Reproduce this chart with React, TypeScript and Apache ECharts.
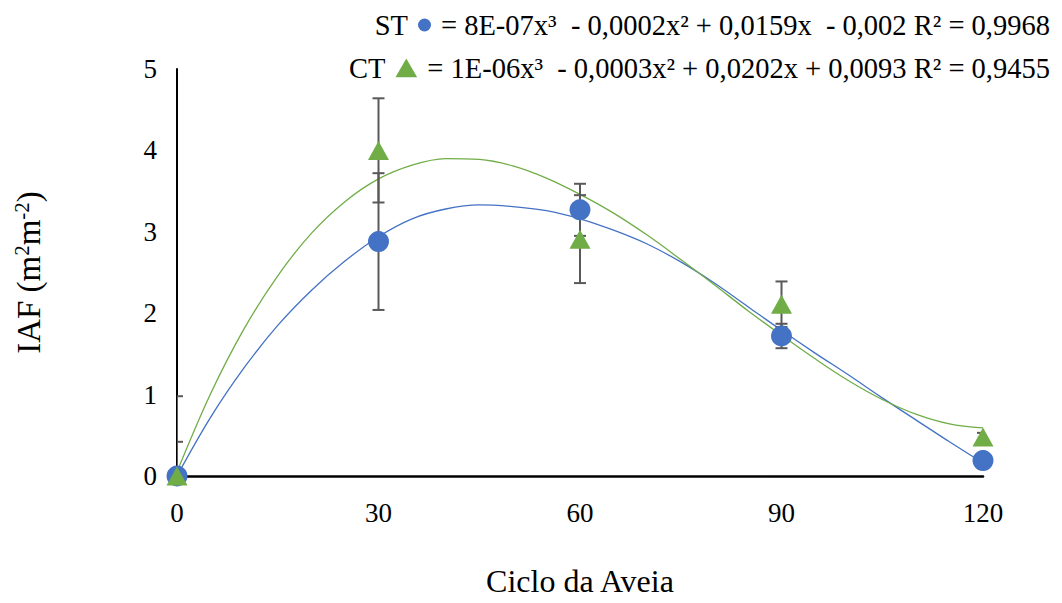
import React, { useEffect, useRef } from "react";
import * as echarts from "echarts";

// Sampled days of the oat cycle
const days = [0, 30, 60, 90, 120];
// Mean leaf area index
const stMeans = [0, 2.88, 3.27, 1.72, 0.19];
const ctMeans = [0, 4.0, 2.91, 2.11, 0.48];
// Error bar half-lengths
const stErr = [0.42, 0.84, 0.32, 0.15, 0.03];
const ctErr = [0.98, 0.64, 0.54, 0.28, 0.05];

// Trend lines
const curveX = [0, 5, 10, 15, 20, 25, 30, 35, 40, 45, 50, 55, 60, 65, 70, 75, 80, 85, 90, 95, 100, 105, 110, 115, 120];
const stCurve = [0, 0.72, 1.33, 1.85, 2.28, 2.64, 2.94, 3.16, 3.28, 3.33, 3.31, 3.26, 3.16, 3.02, 2.85, 2.63, 2.37, 2.08, 1.79, 1.51, 1.24, 0.96, 0.69, 0.42, 0.16];
const ctCurve = [0.05, 1.01, 1.81, 2.46, 2.98, 3.37, 3.65, 3.82, 3.9, 3.89, 3.81, 3.66, 3.46, 3.23, 2.96, 2.66, 2.35, 2.03, 1.73, 1.44, 1.17, 0.94, 0.76, 0.64, 0.59];

// Axis ticks
const xTicks = { min: 0, max: 120, interval: 30 };
const yTicks = { min: 0, max: 5, interval: 1 };

const stLabel = "ST";
const ctLabel = "CT";
const stEquation = "= 8E-07x³  - 0,0002x² + 0,0159x  - 0,002 R² = 0,9968";
const ctEquation = "= 1E-06x³  - 0,0003x² + 0,0202x + 0,0093 R² = 0,9455";

const BLUE = "#4472C4";
const GREEN = "#70AD47";
const FONT = '"Liberation Serif", "Times New Roman", serif';
const TRI_SVG =
  "data:image/svg+xml;utf8," +
  encodeURIComponent(
    "<svg xmlns='http://www.w3.org/2000/svg' width='22' height='19' viewBox='0 0 22 19'><polygon points='11,0 22,19 0,19' fill='#70AD47'/></svg>"
  );

export default function App() {
  const ref = useRef<HTMLDivElement>(null);
  useEffect(() => {
    document.body.style.margin = "0";
    if (!ref.current) return;
    const chart = echarts.init(ref.current, undefined, { renderer: "svg" });

    const errData = [
      ...days.map((d, i) => [d, stMeans[i] - stErr[i], stMeans[i] + stErr[i]]),
      ...days.map((d, i) => [d, ctMeans[i] - ctErr[i], ctMeans[i] + ctErr[i]]),
    ];

    const legendRich = {
      t: { fontFamily: FONT, fontSize: 28.5, color: "#000", verticalAlign: "middle" },
      s: { width: 10, height: 10 },
      c: { width: 13, height: 13, borderRadius: 6.5, backgroundColor: BLUE, verticalAlign: "middle" },
      tri: { width: 22, height: 19, backgroundColor: { image: TRI_SVG }, verticalAlign: "middle" },
    };

    const option: any = {
      animation: false,
      backgroundColor: "#fff",
      textStyle: { fontFamily: FONT },
      grid: { left: 177, right: 79, top: 69, bottom: 127, containLabel: false },
      xAxis: {
        type: "value",
        min: xTicks.min,
        max: xTicks.max,
        interval: xTicks.interval,
        name: "Ciclo da Aveia",
        nameLocation: "middle",
        nameGap: 89,
        nameTextStyle: { fontFamily: FONT, fontSize: 32, color: "#000" },
        axisLine: { show: true, lineStyle: { color: "#000", width: 2.5 } },
        axisTick: { show: false },
        splitLine: { show: false },
        axisLabel: { fontFamily: FONT, fontSize: 27, color: "#000", margin: 23 },
      },
      yAxis: {
        type: "value",
        min: yTicks.min,
        max: yTicks.max,
        interval: yTicks.interval,
        name: "IAF (m{sup|2}m{sup|-2})",
        nameLocation: "middle",
        nameGap: 130,
        nameTextStyle: {
          fontFamily: FONT,
          fontSize: 33,
          color: "#000",
          rich: {
            sup: { fontFamily: FONT, fontSize: 21, color: "#000", verticalAlign: "bottom", padding: [0, 0, 15, 0] },
          },
        },
        axisLine: { show: true, onZero: false, lineStyle: { color: "#000", width: 2 } },
        axisTick: { show: false },
        splitLine: { show: false },
        axisLabel: { fontFamily: FONT, fontSize: 27, color: "#000", margin: 20 },
      },
      series: [
        {
          type: "line",
          name: "ST trend",
          data: curveX.map((x, i) => [x, stCurve[i]]),
          smooth: 0.35,
          showSymbol: false,
          lineStyle: { color: BLUE, width: 1.3 },
          z: 2,
        },
        {
          type: "line",
          name: "CT trend",
          data: curveX.map((x, i) => [x, ctCurve[i]]),
          smooth: 0.35,
          showSymbol: false,
          lineStyle: { color: GREEN, width: 1.3 },
          z: 2,
        },
        {
          type: "custom",
          name: "err",
          clip: true,
          z: 3,
          data: errData,
          renderItem: (params: any, api: any) => {
            const x = api.value(0);
            const lo = api.value(1);
            const hi = api.value(2);
            const pHi = api.coord([x, hi]);
            const pLo = api.coord([x, lo]);
            const w = 6;
            const style = { stroke: "#595959", lineWidth: 2 };
            return {
              type: "group",
              children: [
                { type: "line", shape: { x1: pHi[0], y1: pHi[1], x2: pLo[0], y2: pLo[1] }, style },
                { type: "line", shape: { x1: pHi[0] - w, y1: pHi[1], x2: pHi[0] + w, y2: pHi[1] }, style },
                { type: "line", shape: { x1: pLo[0] - w, y1: pLo[1], x2: pLo[0] + w, y2: pLo[1] }, style },
              ],
            };
          },
        },
        {
          type: "scatter",
          name: "ST",
          data: days.map((d, i) => [d, stMeans[i]]),
          symbol: "circle",
          symbolSize: 21,
          itemStyle: { color: BLUE, opacity: 1 },
          clip: false,
          z: 4,
        },
        {
          type: "scatter",
          name: "CT",
          data: days.map((d, i) => [d, ctMeans[i]]),
          symbol: "triangle",
          symbolSize: [21, 19],
          itemStyle: { color: GREEN, opacity: 1 },
          clip: false,
          z: 5,
        },
      ],
      graphic: [
        {
          type: "text",
          x: 1050,
          y: 25,
          style: {
            text: `{t|${stLabel}}{s|}{c|}{s|}{t|${stEquation}}`,
            rich: legendRich,
            align: "right",
            verticalAlign: "middle",
          },
        },
        {
          type: "text",
          x: 1050,
          y: 68,
          style: {
            text: `{t|${ctLabel}}{s|}{tri|}{s|}{t|${ctEquation}}`,
            rich: legendRich,
            align: "right",
            verticalAlign: "middle",
          },
        },
      ],
    };
    chart.setOption(option);
    return () => chart.dispose();
  }, []);
  return <div ref={ref} style={{ width: 1062, height: 603 }} />;
}
